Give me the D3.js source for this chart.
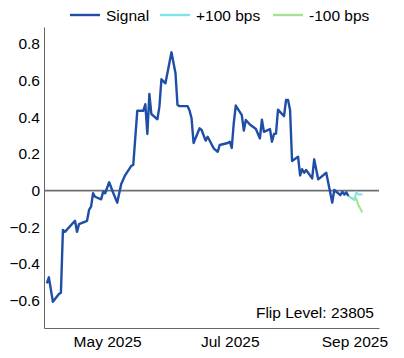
<!DOCTYPE html>
<html><head><meta charset="utf-8">
<script src="https://cdn.jsdelivr.net/npm/d3@7"></script>
<style>body{margin:0;background:#fff}svg{display:block;font-family:"Liberation Sans",Arial,sans-serif}</style>
</head><body><svg id="c" width="404" height="358"></svg>
<script>
const signalDates = ["2025-04-01","2025-04-02","2025-04-04","2025-04-07","2025-04-08","2025-04-09","2025-04-10","2025-04-15","2025-04-16","2025-04-17","2025-04-21","2025-04-22","2025-04-23","2025-04-24","2025-04-25","2025-04-28","2025-04-29","2025-04-30","2025-05-02","2025-05-04","2025-05-06","2025-05-08","2025-05-10","2025-05-13","2025-05-14","2025-05-16","2025-05-19","2025-05-20","2025-05-21","2025-05-22","2025-05-23","2025-05-26","2025-05-27","2025-05-28","2025-05-30","2025-06-02","2025-06-04","2025-06-05","2025-06-06","2025-06-10","2025-06-11","2025-06-12","2025-06-13","2025-06-16","2025-06-17","2025-06-19","2025-06-20","2025-06-23","2025-06-25","2025-06-26","2025-06-30","2025-07-01","2025-07-02","2025-07-03","2025-07-04","2025-07-07","2025-07-08","2025-07-09","2025-07-11","2025-07-14","2025-07-16","2025-07-17","2025-07-18","2025-07-21","2025-07-22","2025-07-23","2025-07-24","2025-07-25","2025-07-28","2025-07-29","2025-07-30","2025-07-31","2025-08-01","2025-08-04","2025-08-05","2025-08-06","2025-08-07","2025-08-08","2025-08-11","2025-08-12","2025-08-14","2025-08-18","2025-08-21","2025-08-22","2025-08-25","2025-08-26","2025-08-27","2025-08-28","2025-08-29"];
const signalValues = [-0.506,-0.473,-0.606,-0.564,-0.557,-0.215,-0.225,-0.165,-0.225,-0.183,-0.165,-0.106,-0.088,-0.015,-0.034,-0.048,-0.007,-0.015,0.045,-0.012,-0.066,0.035,0.084,0.134,0.139,0.435,0.435,0.470,0.308,0.526,0.417,0.388,0.457,0.606,0.584,0.753,0.639,0.466,0.460,0.460,0.436,0.393,0.259,0.339,0.330,0.272,0.293,0.230,0.211,0.248,0.259,0.266,0.232,0.368,0.463,0.411,0.327,0.384,0.360,0.335,0.284,0.386,0.320,0.335,0.266,0.308,0.310,0.441,0.405,0.493,0.493,0.439,0.161,0.184,0.082,0.116,0.097,0.112,0.066,0.170,0.061,0.097,-0.066,0.003,-0.025,-0.007,-0.022,-0.010,-0.030];
const scenarioDates = ["2025-08-29","2025-09-01","2025-09-02","2025-09-03","2025-09-04","2025-09-05"];
const upValues = [-0.030,-0.048,-0.010,-0.021,-0.021,-0.022];
const downValues = [-0.030,-0.052,-0.045,-0.079,-0.100,-0.120];
const yTicks = [-0.6,-0.4,-0.2,0,0.2,0.4,0.6,0.8];
const xTicks = ["2025-05-01","2025-07-01","2025-09-01"];
const legendLabels = ["Signal","+100 bps","-100 bps"];
const flipLevel = 23805;

const parse = d3.timeParse("%Y-%m-%d");
const colors = ["#1f4ea6","#7fe3ea","#a3e38c"];
const svg = d3.select("#c");
const FS = "15.5px";
const x = d3.scaleTime().domain([new Date(2025,2,30,14), new Date(2025,8,13,6)]).range([44,379]);
const y = d3.scaleLinear().domain([-0.749,0.891]).range([328,27]);

// axes
const yAxis = svg.append("g").attr("transform","translate(44,0)")
  .call(d3.axisLeft(y).tickValues(yTicks).tickSize(0).tickPadding(4).tickFormat(d=>d===0?"0":d3.format(".1f")(d)));
yAxis.select(".domain").attr("stroke","#666");
yAxis.selectAll("text").attr("font-size",FS).attr("fill","#000").attr("font-family","Liberation Sans, Arial, sans-serif");
const xAxis = svg.append("g").attr("transform","translate(0,328)")
  .call(d3.axisBottom(x).tickValues(xTicks.map(parse)).tickSize(0).tickPadding(8).tickFormat(d3.timeFormat("%b %Y")));
xAxis.select(".domain").attr("stroke","#666");
xAxis.selectAll("text").attr("font-size",FS).attr("fill","#000").attr("font-family","Liberation Sans, Arial, sans-serif");

// zero line
svg.append("line").attr("x1",44).attr("x2",379).attr("y1",y(0)).attr("y2",y(0))
  .attr("stroke","#6b6f75").attr("stroke-width",1.8);

const line = d3.line().x(d=>x(d[0])).y(d=>y(d[1]));
const mk = (ds,vs)=>ds.map((d,i)=>[parse(d),vs[i]]);
svg.append("path").datum(mk(scenarioDates,downValues)).attr("d",line).attr("fill","none").attr("stroke",colors[2]).attr("stroke-width",2);
svg.append("path").datum(mk(scenarioDates,upValues)).attr("d",line).attr("fill","none").attr("stroke",colors[1]).attr("stroke-width",2);
svg.append("path").datum(mk(signalDates,signalValues)).attr("d",line).attr("fill","none").attr("stroke",colors[0]).attr("stroke-width",2.4).attr("stroke-linejoin","round");

// legend
const lx = [70,160,273];
legendLabels.forEach((t,i)=>{
  svg.append("line").attr("x1",lx[i]).attr("x2",lx[i]+30).attr("y1",15).attr("y2",15).attr("stroke",colors[i]).attr("stroke-width",2.4);
  svg.append("text").attr("x",lx[i]+36).attr("y",21).attr("font-size",FS).attr("fill","#000").text(t);
});

svg.append("text").attr("x",374).attr("y",318).attr("text-anchor","end").attr("font-size",FS).attr("fill","#000").text("Flip Level: "+flipLevel);
</script></body></html>
